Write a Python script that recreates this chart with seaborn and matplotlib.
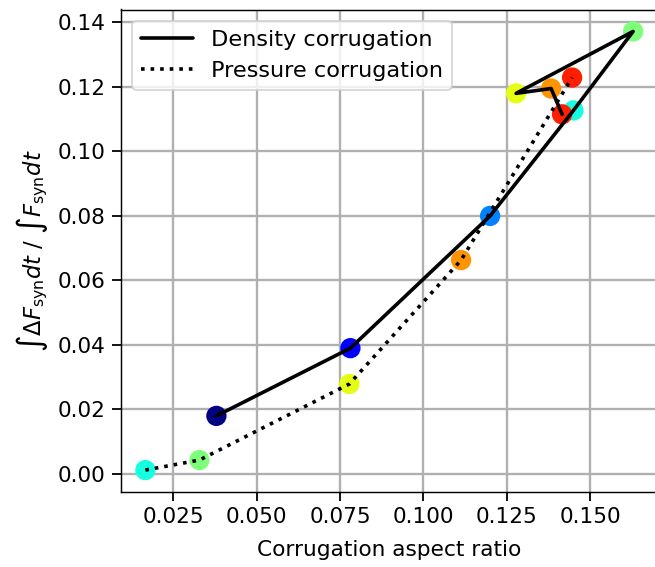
import numpy as np
import pandas as pd
import seaborn as sns
import matplotlib.pyplot as plt
from matplotlib.ticker import MultipleLocator

# values
dens_x = [0.0379, 0.0781, 0.1200, 0.1450, 0.1629, 0.1278, 0.1383, 0.1416]
dens_y = [0.0180, 0.0390, 0.0800, 0.1127, 0.1372, 0.1180, 0.1195, 0.1115]
dens_c = [0, 1, 2, 3, 4, 5, 6, 7]

pres_x = [0.0166, 0.0328, 0.0778, 0.1113, 0.1446]
pres_y = [0.0012, 0.0043, 0.0279, 0.0663, 0.1229]
pres_c = [3, 4, 5, 6, 7]

sns.set_style('ticks')
plt.rcParams['font.family'] = ['DejaVu Sans']
plt.rcParams['text.color'] = 'k'
plt.rcParams['axes.labelcolor'] = 'k'

dens = pd.DataFrame({'x': dens_x, 'y': dens_y, 'c': dens_c})
pres = pd.DataFrame({'x': pres_x, 'y': pres_y, 'c': pres_c})

cmap = plt.get_cmap('jet')
fig, ax = plt.subplots(figsize=(655 / 130, 567 / 130), dpi=130)

for df in (dens, pres):
    ax.scatter(df['x'], df['y'], c=[cmap(i / 8) for i in df['c']], s=105, zorder=2)

sns.lineplot(data=dens, x='x', y='y', sort=False, color='k', lw=2,
             label='Density corrugation', ax=ax, zorder=3)
sns.lineplot(data=pres, x='x', y='y', sort=False, color='k', lw=2, ls=':',
             label='Pressure corrugation', ax=ax, zorder=3)

ax.xaxis.set_major_locator(MultipleLocator(0.025))
ax.grid(True, color='#b0b0b0', lw=1.3)
ax.set_axisbelow(True)
for s in ax.spines.values():
    s.set_visible(True)
    s.set_color('k')
ax.tick_params(colors='k', labelsize=12, length=5, width=1)
ax.set_xlabel('Corrugation aspect ratio', fontsize=12, labelpad=7)
ax.set_ylabel(r'$\int\Delta F_{\rm syn}dt$ / $\int F_{\rm syn}dt$', fontsize=12.5)
ax.legend(loc='upper left', fontsize=12.4, handlelength=2.3)

# the reference is cropped just inside the right spine
fig.subplots_adjust(left=121 / 655, right=657.5 / 655, top=1 - 9.5 / 567, bottom=1 - 492 / 567)
plt.savefig('out.png', dpi=130)
